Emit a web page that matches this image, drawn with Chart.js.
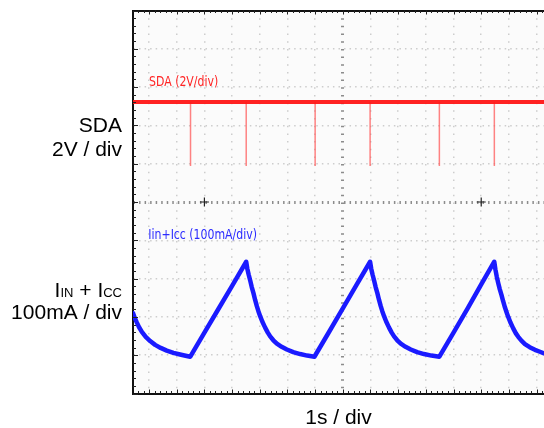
<!DOCTYPE html>
<html><head><meta charset="utf-8">
<script src="https://cdn.jsdelivr.net/npm/chart.js@4.4.0/dist/chart.umd.min.js"></script>
<style>html,body{margin:0;padding:0;background:#fff;} #wrap{width:544px;height:428px;position:relative;}</style>
</head><body><div id="wrap"><canvas id="c" width="544" height="428"></canvas></div>
<script>
// ---- data (time in s, level in vertical divisions; centre = 0) ----
const timeRange = [-3.79, 3.634];
const verticalRange = [-5, 5];
const sdaHighLevel = 2.61;
const sdaPulseLow = 0.94;
const sdaPulseTimes = [-2.751, -1.745, -0.500, 0.493, 1.744, 2.737];
const currentTime = [
  -3.79, -3.76, -3.72, -3.68, -3.63, -3.56, -3.48, -3.39, -3.29, -3.18, -3.06, -2.94, -2.82, -2.755,
  -2.50, -2.25, -2.00, -1.745,
  -1.725, -1.70, -1.673, -1.645, -1.614, -1.585, -1.553, -1.525, -1.493, -1.455, -1.403, -1.355, -1.312, -1.255, -1.191, -1.105, -1.011, -0.895, -0.771, -0.645, -0.513,
  -0.26, 0.0, 0.25, 0.493,
  0.513, 0.538, 0.565, 0.593, 0.624, 0.653, 0.685, 0.713, 0.745, 0.783, 0.835, 0.883, 0.926, 0.983, 1.047, 1.133, 1.227, 1.343, 1.467, 1.600, 1.744,
  2.0, 2.25, 2.50, 2.736,
  2.756, 2.781, 2.808, 2.836, 2.867, 2.896, 2.928, 2.956, 2.988, 3.026, 3.078, 3.126, 3.169, 3.226, 3.29, 3.376, 3.47, 3.56, 3.634
];
const currentLevel = [
  -2.90, -3.02, -3.15, -3.27, -3.39, -3.52, -3.63, -3.73, -3.81, -3.88, -3.94, -3.98, -4.02, -4.04,
  -3.41, -2.80, -2.19, -1.56,
  -1.74, -1.90, -2.05, -2.22, -2.38, -2.55, -2.72, -2.85, -2.98, -3.12, -3.28, -3.41, -3.51, -3.61, -3.70, -3.78, -3.85, -3.92, -3.97, -4.01, -4.04,
  -3.42, -2.78, -2.16, -1.56,
  -1.74, -1.90, -2.05, -2.22, -2.38, -2.55, -2.72, -2.85, -2.98, -3.12, -3.28, -3.41, -3.51, -3.61, -3.70, -3.78, -3.85, -3.92, -3.97, -4.01, -4.04,
  -3.41, -2.79, -2.15, -1.56,
  -1.76, -1.95, -2.12, -2.28, -2.43, -2.59, -2.75, -2.87, -3.00, -3.14, -3.30, -3.43, -3.52, -3.62, -3.71, -3.79, -3.86, -3.91, -3.95
];
const crossTimes = [-2.5, 2.5];
const sdaLabel = 'SDA (2V/div)';
const currentLabel = 'Iin+Icc (100mA/div)';
const xTitle = '1s / div';

// ---- build datasets ----
const currentData = currentTime.map((t, i) => ({x: t, y: currentLevel[i]}));
const sdaLineData = [{x: timeRange[0], y: sdaHighLevel}, {x: timeRange[1], y: sdaHighLevel}];
const sdaPulseData = [];
sdaPulseTimes.forEach(t => {
  sdaPulseData.push({x: t, y: sdaHighLevel}, {x: t, y: sdaPulseLow}, {x: t, y: null});
});
const crossData = crossTimes.map(t => ({x: t, y: 0}));

const MAIN_FONT = '"Liberation Sans", Arial, Helvetica, sans-serif';
const LABEL_FONT = '"DejaVu Sans Condensed", "DejaVu Sans", sans-serif';

const scopePlugin = {
  id: 'scope',
  beforeDraw(chart) {
    const {ctx, chartArea: a} = chart;
    ctx.save();
    ctx.fillStyle = '#fbfbfb';
    ctx.fillRect(a.left, a.top, a.right - a.left, a.bottom - a.top);
    ctx.restore();
  },
  afterDraw(chart) {
    const {ctx, chartArea: a} = chart;
    const xs = chart.scales.x, ys = chart.scales.y;
    ctx.save();
    // frame ticks
    ctx.strokeStyle = '#222';
    ctx.lineWidth = 1;
    for (let k = -50; k <= 50; k += 2) {
      const py = Math.round(ys.getPixelForValue(k / 10)) + 0.5;
      const len = (k % 10 === 0) ? 5 : 3;
      ctx.beginPath(); ctx.moveTo(a.left, py); ctx.lineTo(a.left + len, py); ctx.stroke();
    }
    for (let k = -40; k <= 40; k++) {
      const v = k / 10;
      if (v < xs.min || v > xs.max) continue;
      const px = Math.round(xs.getPixelForValue(v)) + 0.5;
      const len = (k % 5 === 0) ? 4 : 2.5;
      ctx.beginPath(); ctx.moveTo(px, a.top); ctx.lineTo(px, a.top + len); ctx.stroke();
      ctx.beginPath(); ctx.moveTo(px, a.bottom); ctx.lineTo(px, a.bottom - len); ctx.stroke();
    }
    // in-plot channel labels (narrow scope font)
    const drawNarrow = (txt, color, px, py) => {
      ctx.save();
      ctx.translate(px, py);
      ctx.scale(0.9, 1);
      ctx.font = '13.5px ' + LABEL_FONT;
      ctx.textBaseline = 'alphabetic';
      ctx.textAlign = 'left';
      ctx.fillStyle = color;
      ctx.fillText(txt, 0, 0);
      ctx.restore();
    };
    drawNarrow(sdaLabel, '#ff2424', xs.getPixelForValue(-3.50), ys.getPixelForValue(3.03));
    drawNarrow(currentLabel, '#2b2bff', xs.getPixelForValue(-3.514), ys.getPixelForValue(-0.97));
    // left side labels
    ctx.fillStyle = '#000';
    ctx.textAlign = 'right';
    ctx.textBaseline = 'alphabetic';
    const rx = 122;
    ctx.font = '21px ' + MAIN_FONT;
    ctx.fillText('SDA', rx, 132);
    ctx.fillText('2V / div', rx, 156);
    ctx.fillText('100mA / div', rx, 319);
    // I_IN + I_CC with subscripts, right aligned
    const big = '21px ' + MAIN_FONT, small = '13px ' + MAIN_FONT;
    const parts = [['I', big], ['IN', small], [' + I', big], ['CC', small]];
    let total = 0;
    parts.forEach(p => { ctx.font = p[1]; total += ctx.measureText(p[0]).width; });
    let x = rx - total;
    ctx.textAlign = 'left';
    parts.forEach(p => { ctx.font = p[1]; ctx.fillText(p[0], x, 297); x += ctx.measureText(p[0]).width; });
    ctx.restore();
  }
};

const dashedGrid = () => ({
  display: true,
  drawTicks: false,
  color: c => (c.tick && Math.abs(c.tick.value) < 1e-9) ? '#8c8c8c' : '#cdcdcd',
  lineWidth: c => (c.tick && Math.abs(c.tick.value) < 1e-9) ? 3 : 1.5
});

new Chart(document.getElementById('c'), {
  type: 'line',
  data: {
    datasets: [
      { label: 'crosshair', type: 'scatter', data: crossData, pointStyle: 'cross', pointRadius: 4.5,
        borderColor: '#222', borderWidth: 1.2, backgroundColor: '#222', showLine: false },
      { label: 'Iin+Icc', data: currentData, borderColor: '#1a1aff', borderWidth: 4.5, pointRadius: 0,
        tension: 0, fill: false, borderJoinStyle: 'round', borderCapStyle: 'round' },
      { label: 'SDA', data: sdaLineData, borderColor: 'rgba(255,22,22,0.95)', borderWidth: 4, pointRadius: 0, fill: false },
      { label: 'SDA pulses', data: sdaPulseData, borderColor: 'rgba(255,90,90,0.75)', borderWidth: 1.5,
        pointRadius: 0, spanGaps: false, fill: false }
    ]
  },
  options: {
    responsive: false,
    animation: false,
    devicePixelRatio: 1,
    layout: { padding: 0, autoPadding: false },
    plugins: { legend: { display: false }, tooltip: { enabled: false }, title: { display: false } },
    scales: {
      x: {
        type: 'linear', position: 'bottom', min: timeRange[0], max: timeRange[1],
        ticks: { display: false, stepSize: 0.5, includeBounds: false, maxTicksLimit: 1000 },
        grid: dashedGrid(),
        border: { display: true, color: '#111', width: 2, dash: [1.5, 6.18], dashOffset: 0 },
        title: { display: true, text: xTitle, color: '#000', font: { family: MAIN_FONT, size: 21, lineHeight: 1 },
                 padding: { top: 0, bottom: -1 } },
        afterFit: s => { s.height = 34.5; }
      },
      xTop: {
        type: 'linear', position: 'top', min: timeRange[0], max: timeRange[1],
        ticks: { display: false }, grid: { display: false, drawTicks: false },
        border: { display: true, color: '#111', width: 2 },
        afterFit: s => { s.height = 10.5; }
      },
      y: {
        type: 'linear', position: 'left', min: verticalRange[0], max: verticalRange[1],
        ticks: { display: false, stepSize: 1, maxTicksLimit: 1000 },
        grid: dashedGrid(),
        border: { display: true, color: '#111', width: 2, dash: [1.5, 4.04], dashOffset: 0.5 },
        afterFit: s => { s.width = 133; }
      }
    }
  },
  plugins: [scopePlugin]
});
</script>
</body></html>
